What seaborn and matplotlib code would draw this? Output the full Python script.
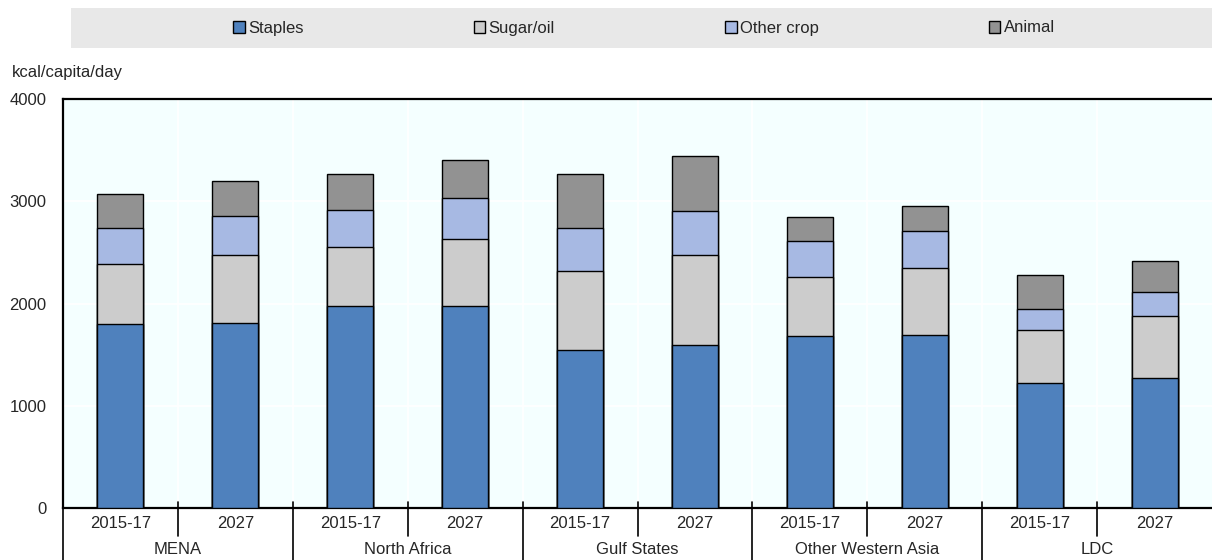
import numpy as np
import pandas as pd
import matplotlib
matplotlib.use('Agg')
import matplotlib.pyplot as plt
import matplotlib.transforms as mtransforms
from matplotlib.patches import Rectangle, Patch
import seaborn as sns

# Data (kcal/capita/day)
regions = ['MENA', 'North Africa', 'Gulf States', 'Other Western Asia', 'LDC']
periods = ['2015-17', '2027']
staples = [1800, 1810, 1980, 1980, 1545, 1590, 1680, 1690, 1225, 1275]
sugar_oil = [590, 665, 570, 650, 775, 885, 580, 655, 515, 605]
other_crop = [350, 380, 365, 405, 420, 430, 350, 360, 210, 235]
animal = [330, 340, 355, 370, 530, 535, 240, 250, 325, 305]

series_names = ['Staples', 'Sugar/oil', 'Other crop', 'Animal']
colors = ['#4F81BD', '#CCCCCC', '#A7B9E3', '#929292']

# Build a tidy frame with cumulative tops for stacking
bar_ids = [f'{r} {p}' for r in regions for p in periods]
df = pd.DataFrame({'bar': bar_ids,
                   'Staples': staples,
                   'Sugar/oil': sugar_oil,
                   'Other crop': other_crop,
                   'Animal': animal})
cum = df[series_names].cumsum(axis=1)

sns.set_style('white')
plt.rcParams['font.family'] = ['Liberation Sans Narrow', 'Liberation Sans', 'DejaVu Sans']
plt.rcParams['font.size'] = 12

W, H = 1212, 560
fig = plt.figure(figsize=(W / 100, H / 100), dpi=100)
ax = fig.add_axes([63 / W, (H - 508) / H, (W - 63) / W, (508 - 99) / H])
ax.set_facecolor('#F4FFFF')

# Draw stacked bars from the top segment downwards
for name, col in reversed(list(zip(series_names, colors))):
    sns.barplot(x=df['bar'], y=cum[name], order=bar_ids, color=col, width=0.4,
                saturation=1, edgecolor='black', linewidth=1, ax=ax, zorder=3)

ax.set_xlim(-0.5, len(bar_ids) - 0.5)
ax.set_ylim(0, 4000)
ax.set_yticks([0, 1000, 2000, 3000, 4000])
ax.set_ylabel('')
ax.set_xlabel('')

# White grid lines: horizontal at major ticks, vertical at bar boundaries
ax.set_xticks(np.arange(len(bar_ids)))
ax.set_xticklabels([p for r in regions for p in periods])
ax.set_xticks(np.arange(len(bar_ids) - 1) + 0.5, minor=True)
ax.grid(True, axis='y', which='major', color='white', linewidth=1.2, zorder=0)
ax.grid(True, axis='x', which='minor', color='white', linewidth=1.2, zorder=0)
ax.set_axisbelow(True)

ax.tick_params(axis='x', which='both', length=0, pad=6, labelsize=12)
ax.tick_params(axis='y', direction='in', length=5, width=1.2, pad=12, labelsize=12)

for s in ['top', 'left', 'bottom']:
    ax.spines[s].set_visible(True)
    ax.spines[s].set_color('black')
    ax.spines[s].set_linewidth(1.6)
ax.spines['right'].set_visible(False)

# Multi-level category axis: separators and region labels
trans = mtransforms.blended_transform_factory(ax.transData, fig.transFigure)
y_axis = (H - 508) / H
for i in range(len(regions)):
    ax.plot([2 * i + 0.5] * 2, [y_axis + 6 / H, y_axis - 28 / H], color='black',
            linewidth=1.2, transform=trans, clip_on=False)
    ax.text(2 * i + 0.5, (H - 550) / H, regions[i], transform=trans,
            ha='center', va='center', fontsize=12)
for i in range(len(regions)):
    ax.plot([2 * i - 0.5] * 2, [y_axis + 6 / H, 0], color='black',
            linewidth=1.2, transform=trans, clip_on=False)

# Axis unit label
fig.text(12 / W, 1 - 72 / H, 'kcal/capita/day', ha='left', va='center', fontsize=12)

# Legend band
fig.patches.append(Rectangle((71 / W, 1 - 48 / H), (W - 71) / W, 40 / H,
                             transform=fig.transFigure, facecolor='#E8E8E8',
                             edgecolor='none', zorder=0))
handles = [Patch(facecolor=c, edgecolor='black', linewidth=1) for c in colors]
fig.legend(handles, series_names, loc='center', bbox_to_anchor=(644 / W, 1 - 28 / H),
           ncol=4, frameon=False, handlelength=0.7, handleheight=0.7,
           handletextpad=0.2, columnspacing=10.2, fontsize=12)

fig.savefig('out.png', dpi=100)
